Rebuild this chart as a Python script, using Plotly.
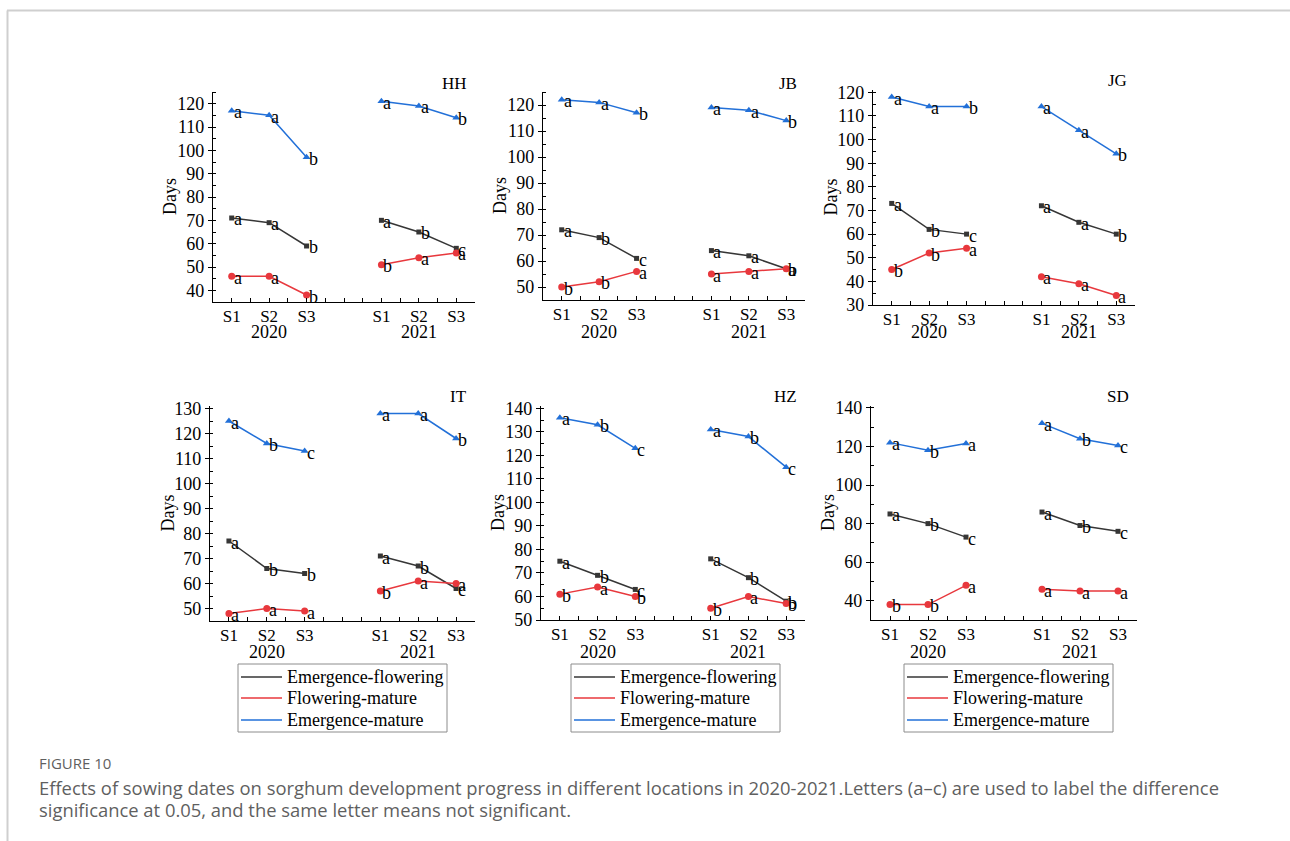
import plotly.graph_objects as go

# ---------------- data ----------------
SITES = ["HH", "JB", "JG", "IT", "HZ", "SD"]
SOWING = ["S1", "S2", "S3"]
YEARS = ["2020", "2021"]
SERIES = ["Emergence-flowering", "Flowering-mature", "Emergence-mature"]

# each list: 2020 S1, S2, S3, 2021 S1, S2, S3
HH_EF = [71, 69, 59, 70, 65, 58]
HH_EF_SIG = ["a", "a", "b", "a", "b", "c"]
HH_FM = [46, 46, 38, 51, 54, 56]
HH_FM_SIG = ["a", "a", "b", "b", "a", "a"]
HH_EM = [117, 115, 97, 121, 119, 114]
HH_EM_SIG = ["a", "a", "b", "a", "a", "b"]

JB_EF = [72, 69, 61, 64, 62, 57]
JB_EF_SIG = ["a", "b", "c", "a", "a", "b"]
JB_FM = [50, 52, 56, 55, 56, 57]
JB_FM_SIG = ["b", "b", "a", "a", "a", "a"]
JB_EM = [122, 121, 117, 119, 118, 114]
JB_EM_SIG = ["a", "a", "b", "a", "a", "b"]

JG_EF = [73, 62, 60, 72, 65, 60]
JG_EF_SIG = ["a", "b", "c", "a", "a", "b"]
JG_FM = [45, 52, 54, 42, 39, 34]
JG_FM_SIG = ["b", "b", "a", "a", "a", "a"]
JG_EM = [118, 114, 114, 114, 104, 94]
JG_EM_SIG = ["a", "a", "b", "a", "a", "b"]

IT_EF = [77, 66, 64, 71, 67, 58]
IT_EF_SIG = ["a", "b", "b", "a", "b", "c"]
IT_FM = [48, 50, 49, 57, 61, 60]
IT_FM_SIG = ["a", "a", "a", "b", "a", "a"]
IT_EM = [125, 116, 113, 128, 128, 118]
IT_EM_SIG = ["a", "b", "c", "a", "a", "b"]

HZ_EF = [75, 69, 63, 76, 68, 58]
HZ_EF_SIG = ["a", "b", "c", "a", "b", "b"]
HZ_FM = [61, 64, 60, 55, 60, 57]
HZ_FM_SIG = ["b", "a", "b", "b", "a", "b"]
HZ_EM = [136, 133, 123, 131, 128, 115]
HZ_EM_SIG = ["a", "b", "c", "a", "b", "c"]

SD_EF = [85, 80, 73, 86, 79, 76]
SD_EF_SIG = ["a", "b", "c", "a", "b", "c"]
SD_FM = [38, 38, 48, 46, 45, 45]
SD_FM_SIG = ["b", "b", "a", "a", "a", "a"]
SD_EM = [122, 118, 121.5, 132, 124, 120.5]
SD_EM_SIG = ["a", "b", "a", "a", "b", "c"]

DATA = {
    "HH": [(HH_EF, HH_EF_SIG), (HH_FM, HH_FM_SIG), (HH_EM, HH_EM_SIG)],
    "JB": [(JB_EF, JB_EF_SIG), (JB_FM, JB_FM_SIG), (JB_EM, JB_EM_SIG)],
    "JG": [(JG_EF, JG_EF_SIG), (JG_FM, JG_FM_SIG), (JG_EM, JG_EM_SIG)],
    "IT": [(IT_EF, IT_EF_SIG), (IT_FM, IT_FM_SIG), (IT_EM, IT_EM_SIG)],
    "HZ": [(HZ_EF, HZ_EF_SIG), (HZ_FM, HZ_FM_SIG), (HZ_EM, HZ_EM_SIG)],
    "SD": [(SD_EF, SD_EF_SIG), (SD_FM, SD_FM_SIG), (SD_EM, SD_EM_SIG)],
}

Y_RANGES = {"HH": [35, 125], "JB": [45, 125], "JG": [30, 121],
            "IT": [45, 131], "HZ": [50, 141], "SD": [30, 141]}
Y_DTICK = {"HH": 10, "JB": 10, "JG": 10, "IT": 10, "HZ": 10, "SD": 20}

# ---------------- layout / style ----------------
W, H = 1290, 841
POS = {"2020": [1, 2, 3], "2021": [5, 6, 7]}
# panel pixel boxes: x0, x1, ytop, ybottom
BOX = {"HH": (213, 475, 92, 302), "JB": (543, 805, 92, 300), "JG": (873, 1135, 90, 305),
       "IT": (210, 475, 406, 621), "HZ": (541, 805, 406, 620), "SD": (871, 1137, 406, 620)}
COLORS = ["#363636", "#e8383d", "#2270d8"]
SYMBOLS = ["square", "circle", "triangle-up"]
MSIZE = [5, 7, 7]
SERIF = "Liberation Serif, Times New Roman, serif"
SANS = "Open Sans, Noto Sans, sans-serif"


def px(x):
    return x / W


def py(y):
    return 1 - y / H


fig = go.Figure()
annotations = []
shapes = []
layout = {}

for i, site in enumerate(SITES):
    n = "" if i == 0 else str(i + 1)
    xa, ya = "x" + n, "y" + n
    x0, x1, yt, yb = BOX[site]
    tickvals = [v / 2 for v in range(2, 15)]
    ticktext = []
    for v in tickvals:
        lab = ""
        for yr in YEARS:
            if v in POS[yr]:
                lab = SOWING[POS[yr].index(v)]
        ticktext.append(lab)
    layout["xaxis" + n] = dict(
        domain=[px(x0), px(x1)], anchor=ya, range=[0.5, 7.5], automargin=False,
        tickvals=tickvals, ticktext=ticktext, ticks="inside", ticklen=4,
        tickcolor="black", tickwidth=1.2, showline=True, linecolor="black", linewidth=1.3,
        showgrid=False, zeroline=False, ticklabelstandoff=-2,
        tickfont=dict(family=SERIF, size=17, color="black"))
    layout["yaxis" + n] = dict(
        domain=[py(yb), py(yt)], anchor=xa, range=Y_RANGES[site], automargin=False,
        dtick=Y_DTICK[site], ticks="outside", ticklen=4, tickcolor="black", tickwidth=1.2,
        showline=True, linecolor="black", linewidth=1.3, showgrid=False, zeroline=False,
        minor=dict(dtick=Y_DTICK[site] / 2, ticks="inside", ticklen=3, tickcolor="black"),
        tickfont=dict(family=SERIF, size=18, color="black"))

    for s, (vals, sigs) in enumerate(DATA[site]):
        for k, yr in enumerate(YEARS):
            yv = vals[3 * k:3 * k + 3]
            fig.add_trace(go.Scatter(
                x=POS[yr], y=yv, mode="lines+markers", xaxis=xa, yaxis=ya,
                line=dict(color=COLORS[s], width=1.5),
                marker=dict(symbol=SYMBOLS[s], size=MSIZE[s], color=COLORS[s]),
                showlegend=False, hoverinfo="skip"))
            for j in range(3):
                annotations.append(dict(
                    x=POS[yr][j], y=yv[j], xref=xa, yref=ya, text=sigs[3 * k + j],
                    showarrow=False, xanchor="left", yanchor="middle", xshift=0, yshift=-1.5,
                    font=dict(family=SERIF, size=18, color="black")))

    # year labels
    row_y = 332 if i < 3 else 652
    for yr in YEARS:
        annotations.append(dict(
            x=POS[yr][1], y=py(row_y), xref=xa, yref="paper", text=yr, showarrow=False,
            xanchor="center", yanchor="middle", font=dict(family=SERIF, size=18, color="black")))
    # site label
    annotations.append(dict(
        x=px(x1 - 6), y=py(yt - 9), xref="paper", yref="paper", text=site, showarrow=False,
        xanchor="right", yanchor="middle", font=dict(family=SERIF, size=17, color="black")))
    # y title
    annotations.append(dict(
        x=px(x0 - 43), y=py((yt + yb) / 2), xref="paper", yref="paper", text="Days",
        showarrow=False, textangle=-90, xanchor="center", yanchor="middle",
        font=dict(family=SERIF, size=18, color="black")))

# hand-drawn legend boxes under the bottom row
LEG_X = [238, 571, 904]
LEG_TOP, LEG_BOTTOM, LEG_W = 664, 732, 209
ROW_OFF = [13, 34, 56]
for c in range(3):
    L = LEG_X[c]
    shapes.append(dict(type="rect", xref="paper", yref="paper", x0=px(L), x1=px(L + LEG_W),
                       y0=py(LEG_BOTTOM), y1=py(LEG_TOP), line=dict(color="#8c8c8c", width=1),
                       fillcolor="white", layer="above"))
    for s, name in enumerate(SERIES):
        yy = LEG_TOP + ROW_OFF[s]
        shapes.append(dict(type="line", xref="paper", yref="paper", x0=px(L + 3), x1=px(L + 44),
                           y0=py(yy), y1=py(yy), line=dict(color=COLORS[s], width=1.5)))
        annotations.append(dict(x=px(L + 47), y=py(yy), xref="paper", yref="paper", text=name,
                                showarrow=False, xanchor="left", yanchor="middle",
                                font=dict(family=SERIF, size=18, color="black")))

# caption
annotations.append(dict(
    x=px(37), y=py(763), xref="paper", yref="paper", text="FIGURE 10", showarrow=False,
    xanchor="left", yanchor="middle", font=dict(family=SANS, size=15, color="#5f5f5f")))
annotations.append(dict(
    x=px(37), y=py(787), xref="paper", yref="paper",
    text="Effects of sowing dates on sorghum development progress in different locations in 2020-2021.Letters (a\u2013c) are used to label the difference",
    showarrow=False, xanchor="left", yanchor="middle",
    font=dict(family=SANS, size=18.4, color="#5f5f5f")))
annotations.append(dict(
    x=px(37), y=py(809), xref="paper", yref="paper",
    text="significance at 0.05, and the same letter means not significant.",
    showarrow=False, xanchor="left", yanchor="middle",
    font=dict(family=SANS, size=18.4, color="#5f5f5f")))

shapes += [
    dict(type="line", xref="paper", yref="paper", x0=px(7), x1=1, y0=py(10.5), y1=py(10.5),
         line=dict(color="#cfcfcf", width=2)),
    dict(type="line", xref="paper", yref="paper", x0=px(7.5), x1=px(7.5), y0=py(10.5), y1=0,
         line=dict(color="#cfcfcf", width=2)),
]

fig.update_layout(
    template="none",
    width=W, height=H, margin=dict(l=0, r=0, t=0, b=0, pad=0, autoexpand=False),
    paper_bgcolor="white", plot_bgcolor="white", showlegend=False,
    annotations=annotations, shapes=shapes, **layout)

POST = (
    "document.documentElement.style.margin='0';"
    "document.body.style.margin='0';document.body.style.padding='0';"
    "document.body.style.overflow='hidden';"
    "var d=document.getElementsByClassName('plotly-graph-div')[0];"
    "d.style.position='fixed';d.style.left='0px';d.style.top='0px';"
)
fig.write_html("out.html", config={"displayModeBar": False}, post_script=POST)
